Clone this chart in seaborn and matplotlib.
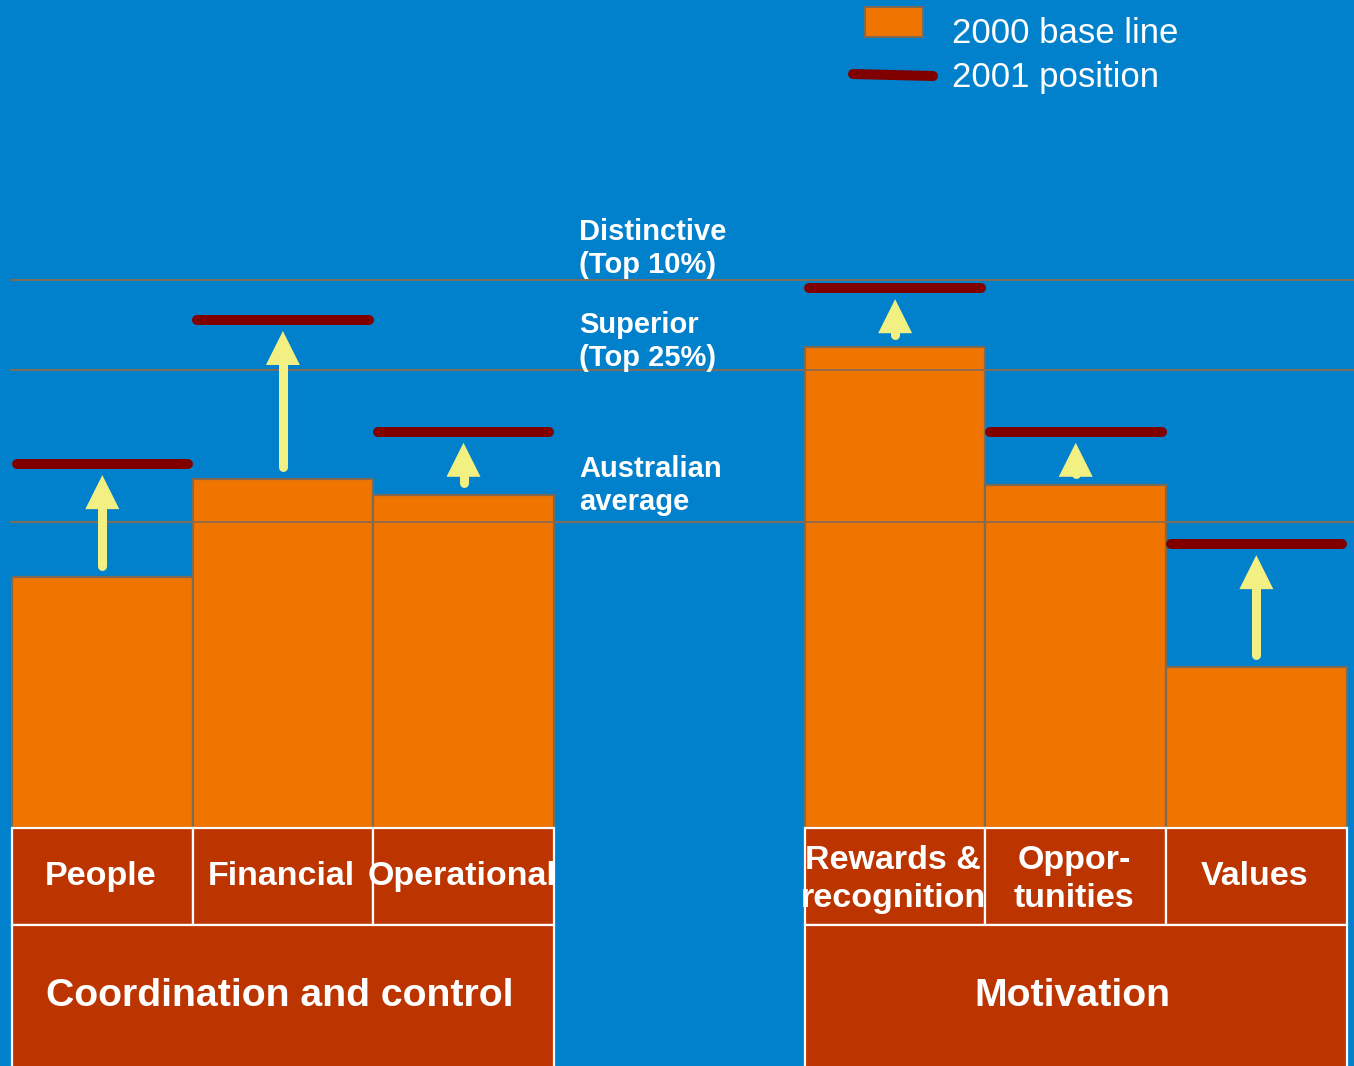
import matplotlib
matplotlib.use("Agg")
import matplotlib.pyplot as plt
from matplotlib.patches import Rectangle, Polygon
from matplotlib.lines import Line2D
from matplotlib.transforms import offset_copy
import pandas as pd
import seaborn as sns

# ---- data -------------------------------------------------------------
groups = ["Coordination and control", "Motivation"]
categories = ["People", "Financial", "Operational",
              "Rewards &\nrecognition", "Oppor-\ntunities", "Values"]
category_group = [0, 0, 0, 1, 1, 1]
baseline_2000 = [45.8, 63.7, 60.8, 87.8, 62.6, 29.4]
position_2001 = [66.4, 92.7, 72.3, 98.5, 72.3, 51.8]
level_names = ["Distinctive\n(Top 10%)", "Superior\n(Top 25%)",
               "Australian\naverage"]
level_values = [100.0, 83.6, 55.8]
legend_labels = ["2000 base line", "2001 position"]

# ---- style ------------------------------------------------------------
BLUE = "#0180CB"
ORANGE = "#F07400"
BAR_EDGE = "#7C6A56"
BOX_RED = "#BC3500"
DARK_RED = "#800000"
YELLOW = "#F2F082"
LEVEL_LINE = "#8A6C4E"

plt.rcParams["font.family"] = ["Liberation Sans", "DejaVu Sans"]

W, H, DPI = 1354, 1066, 100
PX_PER_UNIT_Y = 5.48      # vertical pixels per score unit
PX_PER_BAR = 180.6        # horizontal pixels per bar
BASE_PX = 828             # pixel row of the bar baseline
LEFT_PX = 12              # left edge of the first bar
GROUP_GAP = 1.39          # space between the two groups, in bar widths

fig = plt.figure(figsize=(W / DPI, H / DPI), dpi=DPI)
fig.patch.set_facecolor(BLUE)
ax = fig.add_axes([0, 0, 1, 1])

# bar centres: groups placed side by side with a gap between them
pos = [i + GROUP_GAP * g for i, g in enumerate(category_group)]

x_left = -LEFT_PX / PX_PER_BAR - 0.5
x_right = x_left + W / PX_PER_BAR
y_bottom = -(H - BASE_PX) / PX_PER_UNIT_Y
y_top = BASE_PX / PX_PER_UNIT_Y

df = pd.DataFrame({"pos": pos, "score": baseline_2000})
sns.barplot(data=df, x="pos", y="score", native_scale=True, width=1.0,
            color=ORANGE, saturation=1, edgecolor=BAR_EDGE, linewidth=1.6,
            errorbar=None, ax=ax, zorder=2)

ax.set_xlim(x_left, x_right)
ax.set_ylim(y_bottom, y_top)
ax.set_axis_off()

# benchmark levels
ax.hlines(level_values, x_left + 10 / PX_PER_BAR, x_right,
          colors=LEVEL_LINE, linewidth=1.3, zorder=3)
label_x = pos[2] + 0.5 + 0.14
first_baseline_px = [40, 37, 45]
line_gap_px = 33
for name, val, off in zip(level_names, level_values, first_baseline_px):
    for k, line in enumerate(name.split("\n")):
        tr = offset_copy(ax.transData, fig=fig, x=0,
                         y=off - k * line_gap_px, units="dots")
        ax.text(label_x, val, line, transform=tr, ha="left", va="baseline",
                fontsize=21, fontweight="bold", color="white", zorder=5)

# 2001 positions and improvement arrows
shaft_lw = 6.5                        # points (about 9 px)
cap_units = 4.5 / PX_PER_UNIT_Y       # half the shaft width, in y units
tail_gap = 7 / PX_PER_UNIT_Y
tip_gap = 11 / PX_PER_UNIT_Y
head_len = 34 / PX_PER_UNIT_Y
head_half = 17 / PX_PER_BAR
for p, b, t in zip(pos, baseline_2000, position_2001):
    ax.plot([p - 0.475, p + 0.475], [t, t], color=DARK_RED, lw=7.2,
            solid_capstyle="round", zorder=4)
    tip = t - tip_gap
    head_base = tip - head_len
    ax.plot([p, p], [b + tail_gap + cap_units, head_base + 0.5],
            color=YELLOW, lw=shaft_lw, solid_capstyle="round", zorder=4)
    ax.add_patch(Polygon([(p - head_half, head_base),
                          (p + head_half, head_base), (p, tip)],
                         closed=True, facecolor=YELLOW, edgecolor="none",
                         zorder=4))

# category and group boxes under the bars
row1 = -(925 - BASE_PX) / PX_PER_UNIT_Y
for p, cat in zip(pos, categories):
    ax.add_patch(Rectangle((p - 0.5, row1), 1.0, -row1, facecolor=BOX_RED,
                           edgecolor="white", linewidth=1.6, zorder=2))
    two_line = "\n" in cat
    ax.text(p - 0.01, row1 / 2 - (0.6 if two_line else 0.0), cat,
            ha="center", va="center", fontsize=24.5, fontweight="bold",
            color="white", linespacing=1.3, zorder=5)

for g, name in enumerate(groups):
    members = [p for p, cg in zip(pos, category_group) if cg == g]
    x0, x1 = min(members) - 0.5, max(members) + 0.5
    ax.add_patch(Rectangle((x0, y_bottom - 5), x1 - x0, row1 - y_bottom + 5,
                           facecolor=BOX_RED, edgecolor="white",
                           linewidth=1.6, zorder=2))
    ax.text((x0 + x1) / 2 - 0.02, (row1 + y_bottom) / 2, name, ha="center",
            va="center", fontsize=28.3, fontweight="bold", color="white",
            zorder=5)

# legend
fig.add_artist(Rectangle((865 / W, 1 - 37 / H), 58 / W, 30 / H,
                         transform=fig.transFigure, facecolor=ORANGE,
                         edgecolor=BAR_EDGE, linewidth=1.5))
fig.add_artist(Line2D([853 / W, 933 / W], [1 - 74 / H, 1 - 76 / H],
                      transform=fig.transFigure, color=DARK_RED, lw=7.2,
                      solid_capstyle="round"))
for label, base in zip(legend_labels, [43, 87]):
    fig.text(952 / W, 1 - base / H, label, ha="left", va="baseline",
             fontsize=25, color="white")

fig.savefig("out.png", dpi=DPI, facecolor=BLUE)
